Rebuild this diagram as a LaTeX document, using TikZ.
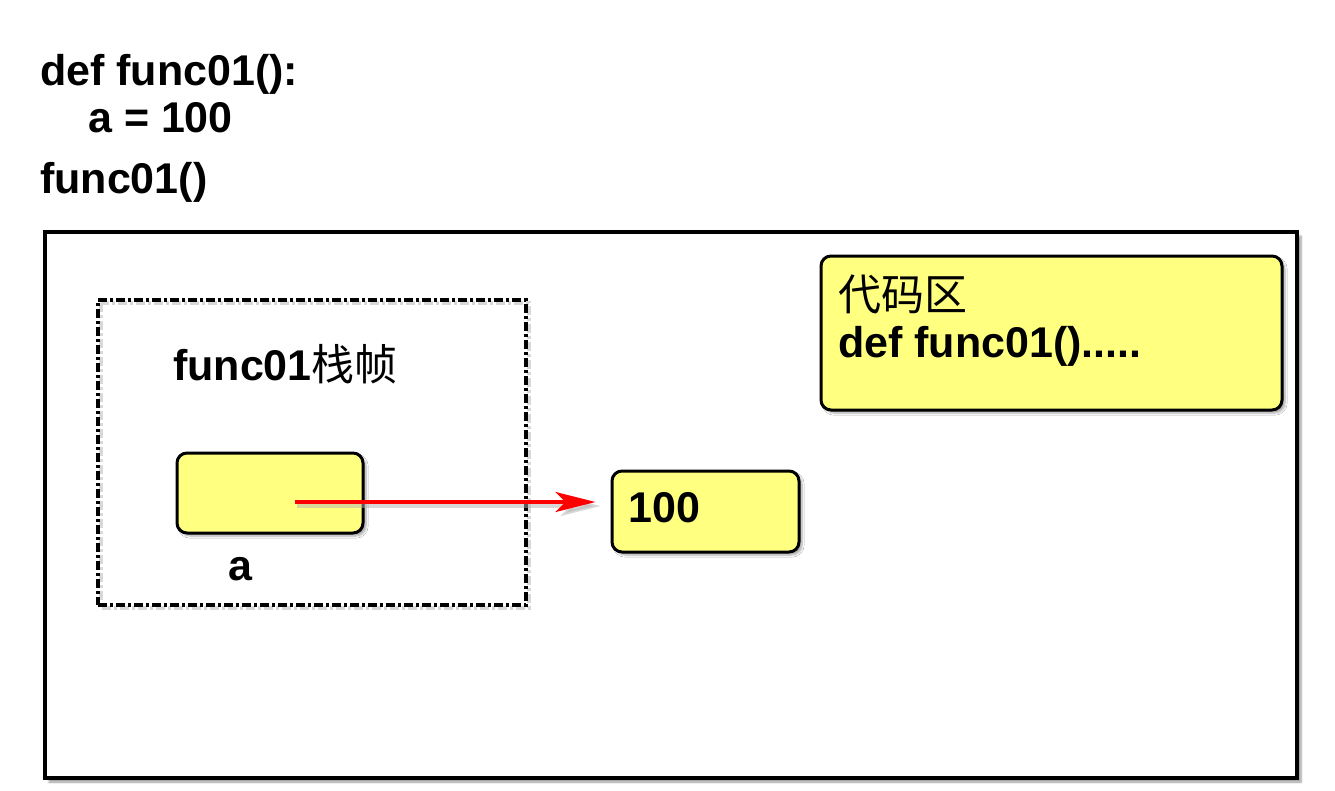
\documentclass[tikz,border=0pt]{standalone}
\usepackage{fontspec}
\setmainfont{Liberation Sans}
\newfontfamily\cjk{Noto Sans CJK SC}
\usetikzlibrary{arrows.meta,shadows.blur,calc}
\definecolor{boxyellow}{RGB}{255,255,128}
\definecolor{arrowred}{RGB}{255,0,0}
\tikzset{
  big/.style={font=\fontsize{43}{50}\selectfont\bfseries},
  txt/.style={big,anchor=base west,inner sep=0pt},
  cell/.style={draw=black,line width=3pt,fill=boxyellow,rounded corners=10pt,inner sep=0pt,
    blur shadow={shadow xshift=3pt,shadow yshift=-3pt,shadow blur steps=6,shadow opacity=35}},
  outerbox/.style={draw=black,line width=4.5pt,fill=white,inner sep=0pt,
    blur shadow={shadow xshift=4pt,shadow yshift=-4pt,shadow blur steps=6,shadow opacity=40}},
  framebox/.style={draw=black,line width=4pt,inner sep=0pt,
    dash pattern=on 9pt off 3pt on 3pt off 3pt},
  redarrow/.style={draw=arrowred,line width=3.5pt,-{Stealth[length=40pt,width=20pt,inset=10pt]}}
}
\begin{document}
\begin{tikzpicture}[x=1pt,y=-1pt]
\useasboundingbox (0,0) rectangle (1335,790);
% top code
\node[txt] (l1) at (40,85) {def func01():};
\node[txt] (l2) at (88,132) {a = 100};
\node[txt] (l3) at (40,193) {func01()};
% outer memory box
\node[outerbox,minimum width=1252pt,minimum height=546pt] (mem) at (671,505) {};
% stack frame
\draw[gray!50,line width=4pt,opacity=0.6,dash pattern=on 9pt off 3pt on 3pt off 3pt] (101,303) rectangle (529,608);
\node[framebox,minimum width=428pt,minimum height=305pt] (frame) at (312,452.5) {};
\node[txt] (ftitle) at (173,380) {func01{\cjk\mdseries 栈帧}};
\node[cell,minimum width=186pt,minimum height=80pt] (va) at (270,493) {};
\node[txt] (la) at (228,580) {a};
% value box
\node[cell,minimum width=187pt,minimum height=81pt] (v100) at (705.5,511.5) {};
\node[txt] (t100) at (628,522) {100};
% code area
\node[cell,minimum width=461pt,minimum height=154pt] (code) at (1051.5,333) {};
\node[txt,font=\fontsize{43}{50}\selectfont\cjk] (ctitle) at (838,310) {代码区};
\node[txt] (cdef) at (838,357) {def func01().....};
% arrow
\coordinate (astart) at (295,502);
\draw[gray!60,opacity=0.5,line width=3.5pt,-{Stealth[length=40pt,width=20pt,inset=10pt]},shorten >=12pt] ($(astart)+(2,4)$) -- ($(astart -| v100.west)+(2,4)$);
\draw[redarrow,shorten >=15pt] (astart) -- (astart -| v100.west);
\end{tikzpicture}
\end{document}
